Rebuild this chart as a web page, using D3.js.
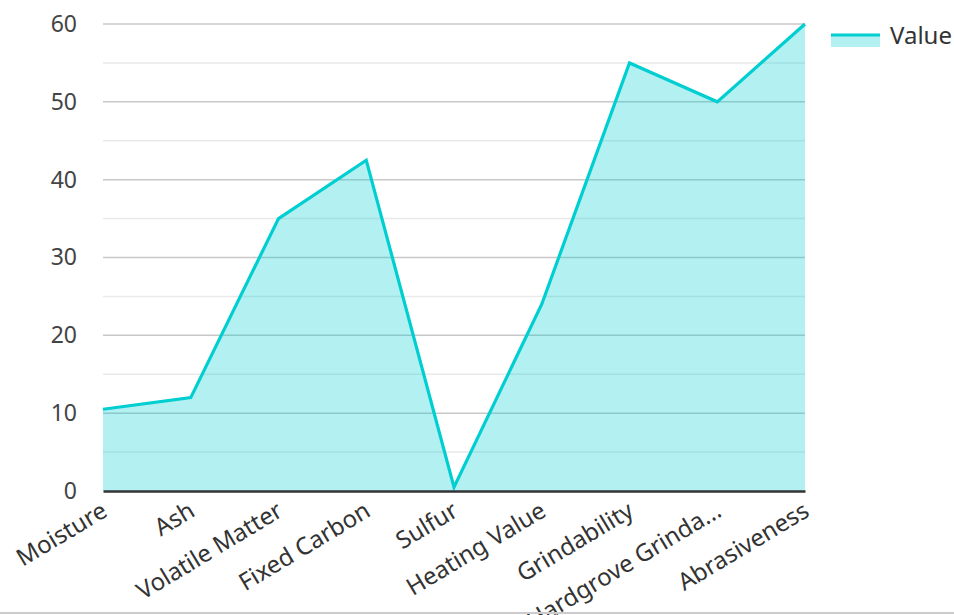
<!DOCTYPE html>
<html>
<head>
<meta charset="utf-8">
<script src="https://cdn.jsdelivr.net/npm/d3@7"></script>
<style>
  body { margin: 0; background: #fff; font-family: "Noto Sans", "Open Sans", sans-serif; }
  #chart { width: 954px; height: 615px; }
</style>
</head>
<body>
<div id="chart"></div>
<script>
// data
var categories = ["Moisture", "Ash", "Volatile Matter", "Fixed Carbon", "Sulfur",
  "Heating Value", "Grindability", "Hardgrove Grindability Index", "Abrasiveness"];
var values = [10.5, 12, 35, 42.5, 0.5, 24, 55, 50, 60];
var yTicks = [0, 10, 20, 30, 40, 50, 60];
var seriesName = "Value";

var W = 954, H = 615;
var margin = { top: 24, right: 149, bottom: 124, left: 103 },
  width = W - margin.left - margin.right,
  height = H - margin.top - margin.bottom;

var svg = d3.select("#chart").append("svg")
  .attr("width", W)
  .attr("height", H);

var g = svg.append("g")
  .attr("transform", "translate(" + margin.left + "," + margin.top + ")");

var x = d3.scalePoint()
  .domain(categories)
  .range([0, width]);

var y = d3.scaleLinear()
  .domain([0, 60])
  .range([height, 0]);

// minor grid (every 5)
g.append("g")
  .selectAll("line")
  .data(d3.range(5, 60, 10))
  .enter().append("line")
  .attr("x1", 0).attr("x2", width)
  .attr("y1", function (d) { return y(d); })
  .attr("y2", function (d) { return y(d); })
  .attr("stroke", "#e9e9e9")
  .attr("stroke-width", 1.5);

// major grid
g.append("g")
  .selectAll("line")
  .data(yTicks.slice(1))
  .enter().append("line")
  .attr("x1", 0).attr("x2", width)
  .attr("y1", function (d) { return y(d); })
  .attr("y2", function (d) { return y(d); })
  .attr("stroke", "#c8c8c8")
  .attr("stroke-width", 1.5);

// area + line
var pts = categories.map(function (c, i) { return { c: c, v: values[i] }; });

g.append("path")
  .datum(pts)
  .attr("fill", "rgba(0,206,209,0.3)")
  .attr("d", d3.area()
    .x(function (d) { return x(d.c); })
    .y0(height)
    .y1(function (d) { return y(d.v); }));

g.append("path")
  .datum(pts)
  .attr("fill", "none")
  .attr("stroke", "#00CED1")
  .attr("stroke-width", 3.2)
  .attr("d", d3.line()
    .x(function (d) { return x(d.c); })
    .y(function (d) { return y(d.v); }));

// y axis
var yAxis = g.append("g")
  .call(d3.axisLeft(y).tickValues(yTicks).tickSize(0).tickPadding(26));
yAxis.select(".domain").remove();
yAxis.selectAll("text")
  .attr("fill", "#444")
  .style("font-family", "'Noto Sans', sans-serif")
  .style("font-size", "23px");

// x axis
function trunc(s) { return s.length > 16 ? s.slice(0, 16) + "..." : s; }
var xAxis = g.append("g")
  .attr("transform", "translate(0," + height + ")")
  .call(d3.axisBottom(x).tickSize(0).tickFormat(trunc));
xAxis.select(".domain")
  .attr("stroke", "#333")
  .attr("stroke-width", 2.5);
xAxis.selectAll("text")
  .attr("fill", "#333")
  .style("font-family", "'Noto Sans', sans-serif")
  .style("font-size", "24px")
  .attr("text-anchor", "end")
  .attr("y", 0)
  .attr("dy", "0.35em")
  .attr("transform", "translate(1,17) rotate(-31)");

// legend
var lg = svg.append("g").attr("transform", "translate(831,35)");
lg.append("rect")
  .attr("x", 0).attr("y", 0).attr("width", 49).attr("height", 12)
  .attr("fill", "rgba(0,206,209,0.3)");
lg.append("line")
  .attr("x1", 0).attr("x2", 49).attr("y1", 0).attr("y2", 0)
  .attr("stroke", "#00CED1").attr("stroke-width", 3);
lg.append("text")
  .attr("x", 59).attr("y", 8.5)
  .attr("fill", "#333")
  .style("font-family", "'Noto Sans', sans-serif")
  .style("font-size", "24px")
  .text(seriesName);

// bottom border
svg.append("line")
  .attr("x1", 0).attr("x2", W).attr("y1", 613).attr("y2", 613)
  .attr("stroke", "#ccc").attr("stroke-width", 2);
</script>
</body>
</html>
